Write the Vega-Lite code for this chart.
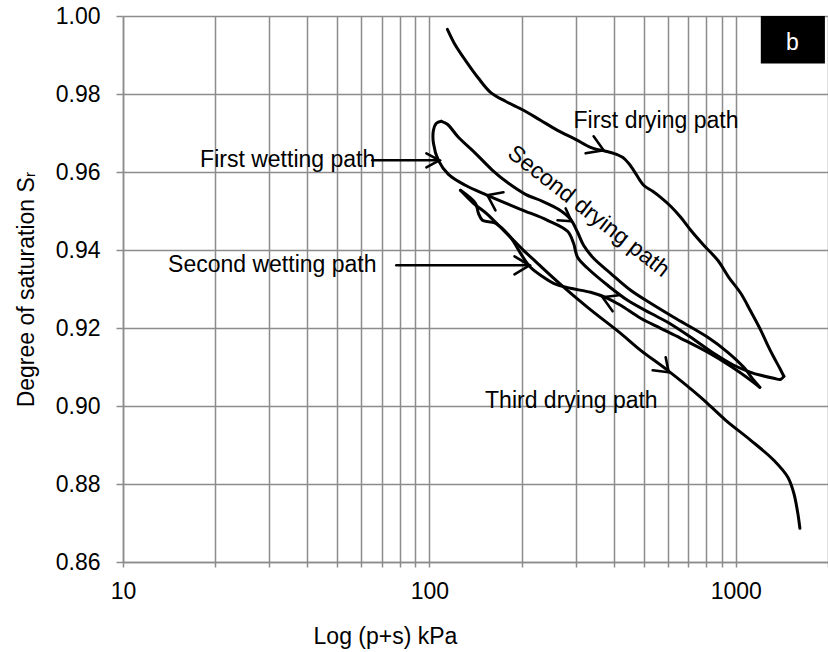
{
  "$schema": "https://vega.github.io/schema/vega-lite/v6.json",
  "width": 705,
  "height": 546,
  "autosize": {"type": "none"},
  "padding": {"left": 123, "top": 16, "right": 0, "bottom": 90},
  "background": "white",
  "config": {"view": {"stroke": null}, "font": "Liberation Sans"},
  "datasets": {
    "curve": [
      {"seg": "First drying", "o": 0, "p": 114.5, "s": 0.99659},
      {"seg": "First drying", "o": 1, "p": 121.6, "s": 0.99249},
      {"seg": "First drying", "o": 2, "p": 131.1, "s": 0.98864},
      {"seg": "First drying", "o": 3, "p": 144.6, "s": 0.98403},
      {"seg": "First drying", "o": 4, "p": 158.3, "s": 0.98044},
      {"seg": "First drying", "o": 5, "p": 177.2, "s": 0.97813},
      {"seg": "First drying", "o": 6, "p": 202.9, "s": 0.97582},
      {"seg": "First drying", "o": 7, "p": 230.5, "s": 0.97326},
      {"seg": "First drying", "o": 8, "p": 262.0, "s": 0.97069},
      {"seg": "First drying", "o": 9, "p": 300.0, "s": 0.96838},
      {"seg": "First drying", "o": 10, "p": 335.9, "s": 0.96633},
      {"seg": "First drying", "o": 11, "p": 376.0, "s": 0.96531},
      {"seg": "First drying", "o": 12, "p": 399.3, "s": 0.96479},
      {"seg": "First drying", "o": 13, "p": 427.2, "s": 0.96377},
      {"seg": "First drying", "o": 14, "p": 447.0, "s": 0.96223},
      {"seg": "First drying", "o": 15, "p": 464.2, "s": 0.96044},
      {"seg": "First drying", "o": 16, "p": 500.4, "s": 0.95659},
      {"seg": "First drying", "o": 17, "p": 535.6, "s": 0.95505},
      {"seg": "First drying", "o": 18, "p": 568.7, "s": 0.95351},
      {"seg": "First drying", "o": 19, "p": 613.2, "s": 0.95121},
      {"seg": "First drying", "o": 20, "p": 661.2, "s": 0.94838},
      {"seg": "First drying", "o": 21, "p": 713.0, "s": 0.94505},
      {"seg": "First drying", "o": 22, "p": 786.1, "s": 0.94121},
      {"seg": "First drying", "o": 23, "p": 873.4, "s": 0.93736},
      {"seg": "First drying", "o": 24, "p": 948.7, "s": 0.93300},
      {"seg": "First drying", "o": 25, "p": 1038, "s": 0.92890},
      {"seg": "First drying", "o": 26, "p": 1119, "s": 0.92428},
      {"seg": "First drying", "o": 27, "p": 1207, "s": 0.91941},
      {"seg": "First drying", "o": 28, "p": 1272, "s": 0.91556},
      {"seg": "First drying", "o": 29, "p": 1331, "s": 0.91249},
      {"seg": "First drying", "o": 30, "p": 1392, "s": 0.90967},
      {"seg": "First drying", "o": 31, "p": 1435, "s": 0.90762},
      {"seg": "First wetting", "o": 0, "p": 1435, "s": 0.90762},
      {"seg": "First wetting", "o": 1, "p": 1403, "s": 0.90685},
      {"seg": "First wetting", "o": 2, "p": 1331, "s": 0.90710},
      {"seg": "First wetting", "o": 3, "p": 1207, "s": 0.90787},
      {"seg": "First wetting", "o": 4, "p": 1119, "s": 0.90864},
      {"seg": "First wetting", "o": 5, "p": 985, "s": 0.91044},
      {"seg": "First wetting", "o": 6, "p": 847, "s": 0.91351},
      {"seg": "First wetting", "o": 7, "p": 713, "s": 0.91762},
      {"seg": "First wetting", "o": 8, "p": 599.5, "s": 0.92146},
      {"seg": "First wetting", "o": 9, "p": 527.6, "s": 0.92377},
      {"seg": "First wetting", "o": 10, "p": 443.6, "s": 0.92710},
      {"seg": "First wetting", "o": 11, "p": 381.7, "s": 0.93095},
      {"seg": "First wetting", "o": 12, "p": 328.4, "s": 0.93531},
      {"seg": "First wetting", "o": 13, "p": 304.6, "s": 0.93813},
      {"seg": "First wetting", "o": 14, "p": 295.5, "s": 0.94172},
      {"seg": "First wetting", "o": 15, "p": 282.5, "s": 0.94479},
      {"seg": "First wetting", "o": 16, "p": 243.0, "s": 0.94762},
      {"seg": "First wetting", "o": 17, "p": 198.4, "s": 0.95044},
      {"seg": "First wetting", "o": 18, "p": 154.7, "s": 0.95403},
      {"seg": "First wetting", "o": 19, "p": 131.1, "s": 0.95659},
      {"seg": "First wetting", "o": 20, "p": 115.4, "s": 0.95941},
      {"seg": "First wetting", "o": 21, "p": 107.0, "s": 0.96300},
      {"seg": "First wetting", "o": 22, "p": 103.1, "s": 0.96736},
      {"seg": "First wetting", "o": 23, "p": 103.1, "s": 0.97069},
      {"seg": "First wetting", "o": 24, "p": 105.4, "s": 0.97249},
      {"seg": "First wetting", "o": 25, "p": 109.4, "s": 0.97300},
      {"seg": "Second drying", "o": 0, "p": 109.4, "s": 0.97300},
      {"seg": "Second drying", "o": 1, "p": 114.5, "s": 0.97223},
      {"seg": "Second drying", "o": 2, "p": 124.4, "s": 0.96890},
      {"seg": "Second drying", "o": 3, "p": 141.4, "s": 0.96479},
      {"seg": "Second drying", "o": 4, "p": 160.7, "s": 0.96044},
      {"seg": "Second drying", "o": 5, "p": 181.2, "s": 0.95710},
      {"seg": "Second drying", "o": 6, "p": 206.0, "s": 0.95428},
      {"seg": "Second drying", "o": 7, "p": 234.0, "s": 0.95249},
      {"seg": "Second drying", "o": 8, "p": 263.9, "s": 0.95044},
      {"seg": "Second drying", "o": 9, "p": 288.9, "s": 0.94787},
      {"seg": "Second drying", "o": 10, "p": 304.6, "s": 0.94454},
      {"seg": "Second drying", "o": 11, "p": 318.6, "s": 0.94121},
      {"seg": "Second drying", "o": 12, "p": 343.6, "s": 0.93787},
      {"seg": "Second drying", "o": 13, "p": 390.4, "s": 0.93403},
      {"seg": "Second drying", "o": 14, "p": 453.9, "s": 0.92967},
      {"seg": "Second drying", "o": 15, "p": 527.6, "s": 0.92633},
      {"seg": "Second drying", "o": 16, "p": 627.2, "s": 0.92274},
      {"seg": "Second drying", "o": 17, "p": 810.1, "s": 0.91762},
      {"seg": "Second drying", "o": 18, "p": 941.6, "s": 0.91377},
      {"seg": "Second drying", "o": 19, "p": 1062, "s": 0.90992},
      {"seg": "Second drying", "o": 20, "p": 1145, "s": 0.90659},
      {"seg": "Second drying", "o": 21, "p": 1198, "s": 0.90479},
      {"seg": "Second wetting", "o": 0, "p": 1198, "s": 0.90479},
      {"seg": "Second wetting", "o": 1, "p": 1119, "s": 0.90659},
      {"seg": "Second wetting", "o": 2, "p": 963.1, "s": 0.91018},
      {"seg": "Second wetting", "o": 3, "p": 810.1, "s": 0.91377},
      {"seg": "Second wetting", "o": 4, "p": 661.2, "s": 0.91736},
      {"seg": "Second wetting", "o": 5, "p": 568.7, "s": 0.91992},
      {"seg": "Second wetting", "o": 6, "p": 489.3, "s": 0.92249},
      {"seg": "Second wetting", "o": 7, "p": 420.9, "s": 0.92582},
      {"seg": "Second wetting", "o": 8, "p": 381.7, "s": 0.92762},
      {"seg": "Second wetting", "o": 9, "p": 335.9, "s": 0.92915},
      {"seg": "Second wetting", "o": 10, "p": 288.9, "s": 0.93018},
      {"seg": "Second wetting", "o": 11, "p": 254.3, "s": 0.93146},
      {"seg": "Second wetting", "o": 12, "p": 235.8, "s": 0.93300},
      {"seg": "Second wetting", "o": 13, "p": 213.8, "s": 0.93556},
      {"seg": "Second wetting", "o": 14, "p": 198.4, "s": 0.93915},
      {"seg": "Second wetting", "o": 15, "p": 184.0, "s": 0.94326},
      {"seg": "Second wetting", "o": 16, "p": 164.3, "s": 0.94685},
      {"seg": "Second wetting", "o": 17, "p": 149.0, "s": 0.94762},
      {"seg": "Second wetting", "o": 18, "p": 144.6, "s": 0.94941},
      {"seg": "Second wetting", "o": 19, "p": 141.4, "s": 0.95197},
      {"seg": "Second wetting", "o": 20, "p": 126.3, "s": 0.95531},
      {"seg": "Third drying", "o": 0, "p": 126.3, "s": 0.95531},
      {"seg": "Third drying", "o": 1, "p": 139.3, "s": 0.95197},
      {"seg": "Third drying", "o": 2, "p": 154.7, "s": 0.94915},
      {"seg": "Third drying", "o": 3, "p": 170.6, "s": 0.94582},
      {"seg": "Third drying", "o": 4, "p": 188.2, "s": 0.94249},
      {"seg": "Third drying", "o": 5, "p": 202.9, "s": 0.93992},
      {"seg": "Third drying", "o": 6, "p": 225.4, "s": 0.93659},
      {"seg": "Third drying", "o": 7, "p": 267.9, "s": 0.93121},
      {"seg": "Third drying", "o": 8, "p": 328.4, "s": 0.92531},
      {"seg": "Third drying", "o": 9, "p": 420.9, "s": 0.91864},
      {"seg": "Third drying", "o": 10, "p": 489.3, "s": 0.91428},
      {"seg": "Third drying", "o": 11, "p": 599.5, "s": 0.90915},
      {"seg": "Third drying", "o": 12, "p": 768.6, "s": 0.90223},
      {"seg": "Third drying", "o": 13, "p": 927.6, "s": 0.89633},
      {"seg": "Third drying", "o": 14, "p": 1119, "s": 0.89121},
      {"seg": "Third drying", "o": 15, "p": 1331, "s": 0.88608},
      {"seg": "Third drying", "o": 16, "p": 1479, "s": 0.88172},
      {"seg": "Third drying", "o": 17, "p": 1547, "s": 0.87762},
      {"seg": "Third drying", "o": 18, "p": 1594, "s": 0.87249},
      {"seg": "Third drying", "o": 19, "p": 1619, "s": 0.86864}
    ],
    "arrows": [
      {"g": "w1shaft", "o": 0, "p": 65.13, "s": 0.963},
      {"g": "w1shaft", "o": 1, "p": 107.8, "s": 0.963},
      {"g": "w1head", "o": 0, "p": 97.77, "s": 0.96479},
      {"g": "w1head", "o": 1, "p": 107.8, "s": 0.963},
      {"g": "w1head", "o": 2, "p": 97.77, "s": 0.96121},
      {"g": "w2shaft", "o": 0, "p": 78.0, "s": 0.93608},
      {"g": "w2shaft", "o": 1, "p": 212.3, "s": 0.93608},
      {"g": "w2head", "o": 0, "p": 189.6, "s": 0.93838},
      {"g": "w2head", "o": 1, "p": 212.3, "s": 0.93608},
      {"g": "w2head", "o": 2, "p": 189.6, "s": 0.93377},
      {"g": "c1", "o": 0, "p": 343.6, "s": 0.96915},
      {"g": "c1", "o": 1, "p": 370.4, "s": 0.96556},
      {"g": "c1", "o": 2, "p": 323.5, "s": 0.96479},
      {"g": "c2", "o": 0, "p": 174.5, "s": 0.95479},
      {"g": "c2", "o": 1, "p": 154.7, "s": 0.95403},
      {"g": "c2", "o": 2, "p": 164.3, "s": 0.95018},
      {"g": "c3", "o": 0, "p": 262.0, "s": 0.94762},
      {"g": "c3", "o": 1, "p": 291.1, "s": 0.94736},
      {"g": "c3", "o": 2, "p": 278.3, "s": 0.95069},
      {"g": "c4", "o": 0, "p": 414.6, "s": 0.92838},
      {"g": "c4", "o": 1, "p": 367.6, "s": 0.92787},
      {"g": "c4", "o": 2, "p": 396.3, "s": 0.92428},
      {"g": "c5", "o": 0, "p": 535.6, "s": 0.90915},
      {"g": "c5", "o": 1, "p": 604.0, "s": 0.90864},
      {"g": "c5", "o": 2, "p": 590.5, "s": 0.91249}
    ],
    "notes": [
      {"t": "First drying path", "p": 295.5, "s": 0.97121, "pos": "left"},
      {"t": "First wetting path", "p": 17.85, "s": 0.96128, "pos": "left"},
      {"t": "Second wetting path", "p": 14.03, "s": 0.9344, "pos": "left"},
      {"t": "Third drying path", "p": 556.0, "s": 0.89941, "pos": "right"},
      {"t": "Second drying path", "p": 330.9, "s": 0.94992, "pos": "rot"}
    ],
    "tag": [
      {"t": "b", "p": 1207, "p2": 1954, "s": 0.98779, "s2": 1.0, "tp": 1529.8, "ts": 0.99121}
    ]
  },
  "layer": [
    {
      "data": {"name": "curve"},
      "mark": {"type": "line", "color": "black", "strokeWidth": 3, "interpolate": "catmull-rom", "strokeCap": "round", "strokeJoin": "round"},
      "encoding": {
        "x": {
          "field": "p", "type": "quantitative",
          "scale": {"type": "log", "domain": [10, 2000], "nice": false},
          "axis": {
            "title": "Log (p+s) kPa",
            "values": [10, 20, 30, 40, 50, 60, 70, 80, 90, 100, 200, 300, 400, 500, 600, 700, 800, 900, 1000, 2000],
            "format": "d",
            "labelExpr": "(datum.value == 10 || datum.value == 100 || datum.value == 1000) ? datum.label : ''",
            "grid": true, "gridColor": "#8c8c8c", "gridWidth": 1.5,
            "domainColor": "#8c8c8c", "domainWidth": 1.5,
            "tickColor": "#8c8c8c", "tickWidth": 1.5, "tickSize": 5,
            "labelFont": "Liberation Sans", "labelFontSize": 23, "labelColor": "#000000",
            "labelBaseline": "alphabetic", "labelPadding": 31.6,
            "labelFlush": false, "labelOverlap": false, "labelBound": false,
            "titleFont": "Liberation Sans", "titleFontSize": 23, "titleFontWeight": "normal", "titleColor": "#000000",
            "titleX": 262, "titleY": 81, "titleAlign": "center", "titleBaseline": "alphabetic", "titleAnchor": null
          }
        },
        "y": {
          "field": "s", "type": "quantitative",
          "scale": {"domain": [0.86, 1.0], "nice": false, "zero": false},
          "axis": {
            "title": "Degree of saturation Sᵣ",
            "values": [0.86, 0.88, 0.9, 0.92, 0.94, 0.96, 0.98, 1.0],
            "format": ".2f",
            "grid": true, "gridColor": "#8c8c8c", "gridWidth": 1.5,
            "domainColor": "#8c8c8c", "domainWidth": 1.5,
            "tickColor": "#8c8c8c", "tickWidth": 1.5, "tickSize": 7,
            "labelFont": "Liberation Sans", "labelFontSize": 23, "labelColor": "#000000",
            "labelPadding": 16, "labelBaseline": "middle",
            "labelFlush": false, "labelOverlap": false, "labelBound": false,
            "titleFont": "Liberation Sans", "titleFontSize": 23, "titleFontWeight": "normal", "titleColor": "#000000",
            "titleX": -89.7, "titleY": 273, "titleAngle": 270, "titleAlign": "center", "titleBaseline": "alphabetic", "titleAnchor": null
          }
        },
        "detail": {"field": "seg"},
        "order": {"field": "o", "type": "quantitative"}
      }
    },
    {
      "data": {"name": "arrows"},
      "mark": {"type": "line", "color": "black", "strokeWidth": 2.6, "strokeCap": "round", "strokeJoin": "miter"},
      "encoding": {
        "x": {"field": "p", "type": "quantitative"},
        "y": {"field": "s", "type": "quantitative"},
        "detail": {"field": "g"},
        "order": {"field": "o", "type": "quantitative"}
      }
    },
    {
      "data": {"name": "notes"},
      "transform": [{"filter": "datum.pos == 'left'"}],
      "mark": {"type": "text", "align": "left", "baseline": "alphabetic", "font": "Liberation Sans", "fontSize": 23, "color": "black"},
      "encoding": {
        "x": {"field": "p", "type": "quantitative"},
        "y": {"field": "s", "type": "quantitative"},
        "text": {"field": "t"}
      }
    },
    {
      "data": {"name": "notes"},
      "transform": [{"filter": "datum.pos == 'right'"}],
      "mark": {"type": "text", "align": "right", "baseline": "alphabetic", "font": "Liberation Sans", "fontSize": 23, "color": "black"},
      "encoding": {
        "x": {"field": "p", "type": "quantitative"},
        "y": {"field": "s", "type": "quantitative"},
        "text": {"field": "t"}
      }
    },
    {
      "data": {"name": "notes"},
      "transform": [{"filter": "datum.pos == 'rot'"}],
      "mark": {"type": "text", "align": "center", "baseline": "middle", "angle": 38, "font": "Liberation Sans", "fontSize": 23, "color": "black"},
      "encoding": {
        "x": {"field": "p", "type": "quantitative"},
        "y": {"field": "s", "type": "quantitative"},
        "text": {"field": "t"}
      }
    },
    {
      "data": {"name": "tag"},
      "mark": {"type": "rect", "color": "black"},
      "encoding": {
        "x": {"field": "p", "type": "quantitative"},
        "x2": {"field": "p2"},
        "y": {"field": "s", "type": "quantitative"},
        "y2": {"field": "s2"}
      }
    },
    {
      "data": {"name": "tag"},
      "mark": {"type": "text", "align": "center", "baseline": "alphabetic", "font": "Liberation Sans", "fontSize": 23, "color": "white"},
      "encoding": {
        "x": {"field": "tp", "type": "quantitative"},
        "y": {"field": "ts", "type": "quantitative"},
        "text": {"field": "t"}
      }
    }
  ]
}
